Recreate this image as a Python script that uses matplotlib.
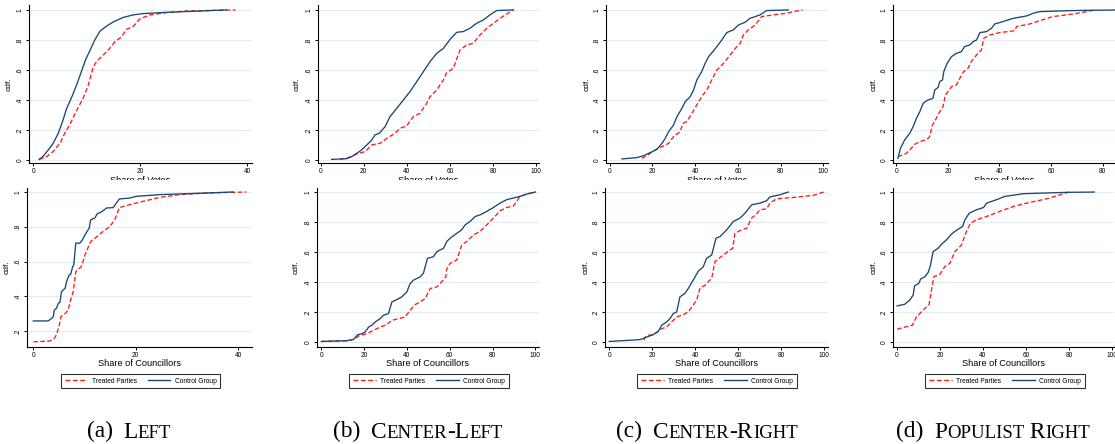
import matplotlib
matplotlib.use("Agg")
import matplotlib.pyplot as plt
from matplotlib.transforms import Bbox, TransformedBbox

W, H = 1115, 444

# ---------------- data ----------------
# (a) Left
left_votes_ctrl_x = [1.1, 1.9, 2.8, 3.7, 4.7, 5.6, 6.2, 7.2, 8.1, 9.0, 9.8, 10.6, 11.5, 12.5, 13.6, 14.95, 16.8, 18.7, 20.6, 24.9, 31.2, 36.1]
left_votes_ctrl_y = [0.004, 0.027, 0.067, 0.11, 0.18, 0.27, 0.34, 0.42, 0.5, 0.59, 0.67, 0.73, 0.8, 0.86, 0.89, 0.92, 0.95, 0.967, 0.976, 0.984, 0.993, 1.0]
left_votes_treat_x = [1.1, 2.5, 3.7, 5.0, 5.9, 6.9, 8.1, 9.3, 10.3, 11.2, 11.8, 13.1, 14.3, 15.3, 16.5, 17.4, 18.7, 19.9, 21.8, 24.9, 28.7, 34.3, 37.8]
left_votes_treat_y = [0.004, 0.022, 0.056, 0.11, 0.18, 0.24, 0.33, 0.41, 0.5, 0.62, 0.655, 0.7, 0.744, 0.79, 0.82, 0.87, 0.89, 0.94, 0.967, 0.982, 0.993, 0.998, 1.0]
left_coun_ctrl_x = [0, 2.9, 3.6, 3.9, 4.1, 4.5, 4.9, 5.2, 5.5, 6.2, 6.5, 7.0, 7.3, 7.7, 7.9, 8.3, 9.1, 9.6, 10.1, 10.5, 10.9, 11.2, 12.0, 12.5, 13.3, 14.3, 15.6, 15.9, 16.8, 18.8, 20.1, 24.7, 29.9, 39.0]
left_coun_ctrl_y = [0.258, 0.258, 0.273, 0.283, 0.32, 0.33, 0.36, 0.365, 0.427, 0.446, 0.485, 0.523, 0.527, 0.571, 0.58, 0.706, 0.706, 0.725, 0.754, 0.773, 0.79, 0.84, 0.85, 0.875, 0.885, 0.908, 0.91, 0.923, 0.96, 0.965, 0.975, 0.985, 0.99, 1.0]
left_coun_treat_x = [0, 3.2, 4.0, 4.5, 5.1, 5.4, 6.2, 6.8, 7.3, 7.8, 8.3, 9.4, 10.1, 10.5, 11.2, 12.3, 13.6, 14.9, 15.9, 16.8, 18.8, 21.4, 24.7, 28.6, 33.8, 41.6]
left_coun_treat_y = [0.138, 0.142, 0.154, 0.177, 0.235, 0.283, 0.30, 0.32, 0.38, 0.427, 0.542, 0.571, 0.638, 0.667, 0.715, 0.74, 0.773, 0.80, 0.84, 0.91, 0.927, 0.946, 0.969, 0.985, 0.994, 1.0]

# (b) Center-Left
cl_votes_ctrl_x = [5.1, 12.1, 14.4, 16.7, 19.0, 21.4, 23.7, 25.2, 27.2, 29.9, 32.2, 35.3, 38.4, 41.5, 44.6, 47.7, 50.8, 53.9, 57.0, 60.1, 63.2, 66.2, 69.4, 72.4, 75.5, 78.6, 81.7, 89.5]
cl_votes_ctrl_y = [0.004, 0.009, 0.022, 0.044, 0.067, 0.1, 0.133, 0.167, 0.178, 0.222, 0.289, 0.344, 0.4, 0.456, 0.522, 0.589, 0.656, 0.711, 0.744, 0.804, 0.851, 0.856, 0.878, 0.911, 0.933, 0.967, 0.996, 1.0]
cl_votes_treat_x = [9.0, 12.8, 16.7, 20.6, 23.7, 27.6, 30.7, 34.5, 36.8, 39.9, 43.0, 46.1, 49.2, 50.8, 53.9, 57.0, 58.5, 61.6, 64.7, 67.8, 70.9, 74.0, 77.1, 80.2, 83.3, 86.4, 89.5]
cl_votes_treat_y = [0.004, 0.016, 0.04, 0.056, 0.1, 0.111, 0.144, 0.178, 0.211, 0.227, 0.289, 0.311, 0.378, 0.422, 0.467, 0.533, 0.582, 0.611, 0.733, 0.767, 0.778, 0.833, 0.878, 0.911, 0.944, 0.973, 1.0]
cl_coun_ctrl_x = [0, 12, 15.1, 17, 19, 20.5, 22.1, 23.6, 25.2, 27.5, 29.1, 31.4, 33, 35.3, 37.6, 40, 41.5, 43.1, 46.2, 47.7, 49.6, 52.4, 54, 57.1, 58.6, 60.2, 63.3, 65.6, 67.2, 69.5, 71.9, 74.2, 77.3, 80.4, 83.5, 86.6, 92.8, 96, 100]
cl_coun_ctrl_y = [0.004, 0.009, 0.018, 0.049, 0.056, 0.067, 0.1, 0.112, 0.134, 0.156, 0.179, 0.19, 0.268, 0.283, 0.301, 0.335, 0.39, 0.413, 0.435, 0.458, 0.558, 0.569, 0.603, 0.625, 0.67, 0.692, 0.725, 0.748, 0.781, 0.804, 0.837, 0.848, 0.871, 0.897, 0.926, 0.949, 0.971, 0.987, 1.0]
cl_coun_treat_x = [0, 12, 15.4, 17.4, 21.3, 24.4, 27.5, 30.6, 33, 36.1, 39.2, 41.5, 43.9, 46.2, 48.5, 50.9, 54, 56.3, 58.2, 58.6, 60.2, 63.3, 65.6, 67.9, 71.1, 74.2, 77.3, 80.4, 83.5, 86.6, 89.7, 92.8, 96, 100]
cl_coun_treat_y = [0.004, 0.009, 0.018, 0.04, 0.056, 0.078, 0.1, 0.116, 0.145, 0.156, 0.167, 0.212, 0.25, 0.268, 0.29, 0.357, 0.368, 0.402, 0.435, 0.487, 0.525, 0.547, 0.647, 0.67, 0.714, 0.737, 0.781, 0.826, 0.875, 0.897, 0.906, 0.971, 0.987, 1.0]

# (c) Center-Right
cr_votes_ctrl_x = [5.8, 12.8, 15.9, 19, 22.1, 24.5, 26, 27.6, 29.9, 31.5, 33.8, 35.4, 37.7, 39.3, 40.8, 43.1, 44.7, 46.3, 48.3, 50.2, 52.5, 54.8, 57.9, 60.3, 63.4, 65.7, 70.4, 73.5, 83.6]
cr_votes_ctrl_y = [0.007, 0.016, 0.029, 0.049, 0.071, 0.111, 0.144, 0.189, 0.233, 0.289, 0.344, 0.389, 0.422, 0.467, 0.533, 0.589, 0.644, 0.689, 0.722, 0.756, 0.8, 0.849, 0.867, 0.9, 0.918, 0.944, 0.967, 0.996, 1.0]
cr_votes_treat_x = [15.1, 17.8, 21.3, 24.5, 27.6, 29.9, 33, 34.3, 36.1, 38.5, 40.8, 43.1, 45.5, 47.8, 50.2, 53.3, 56.4, 59.5, 61.1, 62.6, 64.9, 68.1, 71.2, 76.6, 82.9, 86, 90.3]
cr_votes_treat_y = [0.011, 0.033, 0.067, 0.089, 0.111, 0.156, 0.189, 0.244, 0.256, 0.311, 0.367, 0.422, 0.467, 0.533, 0.6, 0.644, 0.7, 0.756, 0.778, 0.833, 0.867, 0.9, 0.956, 0.967, 0.978, 0.989, 1.0]
cr_coun_ctrl_x = [0, 14.3, 17.4, 20.5, 22.8, 24.4, 26.7, 28.3, 29.8, 31.4, 32.9, 35.2, 36.8, 39.1, 41.5, 43.8, 45.3, 47.7, 49.7, 51.6, 54.7, 57.8, 60.9, 63.2, 66.3, 70.2, 73.3, 74.8, 79.5, 83.4]
cr_coun_ctrl_y = [0.004, 0.016, 0.033, 0.049, 0.071, 0.112, 0.134, 0.156, 0.19, 0.201, 0.301, 0.324, 0.357, 0.413, 0.473, 0.502, 0.558, 0.58, 0.692, 0.703, 0.748, 0.804, 0.826, 0.859, 0.915, 0.926, 0.942, 0.967, 0.982, 1.0]
cr_coun_treat_x = [16.1, 17, 19.7, 22.4, 24.4, 26.7, 29, 31.4, 34.5, 36.8, 39.1, 40.7, 42.2, 44.6, 46.1, 47.7, 49.2, 53.1, 56.2, 57.5, 58.5, 61.6, 64, 66.3, 68.6, 70.2, 73.3, 74.8, 77.9, 85.7, 95, 100]
cr_coun_treat_y = [0.011, 0.04, 0.049, 0.067, 0.089, 0.1, 0.134, 0.167, 0.183, 0.201, 0.246, 0.279, 0.357, 0.379, 0.402, 0.424, 0.536, 0.58, 0.614, 0.625, 0.725, 0.748, 0.759, 0.826, 0.853, 0.882, 0.888, 0.926, 0.955, 0.964, 0.978, 1.0]

# (d) Populist Right
pr_votes_ctrl_x = [0.6, 1.6, 3.2, 5.2, 6.5, 7.8, 9.1, 10.4, 12.3, 14.2, 14.9, 16.2, 16.8, 17.9, 18.4, 19.7, 21.4, 23.3, 25.2, 26.5, 28.5, 29.8, 31.1, 32.4, 35, 36.9, 38.2, 40.1, 45.3, 50.5, 53.1, 55.7, 68.6, 85.4]
pr_votes_ctrl_y = [0.011, 0.078, 0.133, 0.178, 0.222, 0.278, 0.322, 0.378, 0.4, 0.411, 0.467, 0.484, 0.522, 0.533, 0.589, 0.644, 0.689, 0.711, 0.722, 0.756, 0.767, 0.789, 0.8, 0.849, 0.856, 0.878, 0.907, 0.916, 0.944, 0.96, 0.978, 0.989, 0.996, 1.0]
pr_votes_treat_x = [0.6, 3.9, 5.8, 7.1, 9.1, 11.9, 12.9, 14, 15.5, 16.8, 18.1, 19, 20.1, 21.4, 23.3, 24.6, 26.1, 27.8, 29.1, 31.1, 33, 33.9, 36.2, 40.1, 46, 46.6, 51.8, 55.7, 60.8, 68.6, 73.8, 77]
pr_votes_treat_y = [0.022, 0.044, 0.078, 0.104, 0.122, 0.138, 0.156, 0.233, 0.278, 0.322, 0.356, 0.433, 0.456, 0.489, 0.5, 0.544, 0.589, 0.611, 0.656, 0.7, 0.733, 0.811, 0.833, 0.849, 0.862, 0.889, 0.907, 0.929, 0.956, 0.973, 0.989, 1.0]
pr_coun_ctrl_x = [0, 3.6, 5.9, 7.5, 8.2, 10.1, 11, 12.9, 14.5, 15.6, 16.8, 19.1, 20.7, 23, 25.3, 26.9, 29.2, 30.5, 31.6, 33.6, 37, 40.3, 41.7, 46.3, 50.2, 58.8, 79, 91.8]
pr_coun_ctrl_y = [0.241, 0.252, 0.279, 0.313, 0.375, 0.391, 0.42, 0.435, 0.464, 0.513, 0.603, 0.625, 0.652, 0.681, 0.719, 0.737, 0.759, 0.77, 0.815, 0.859, 0.882, 0.897, 0.926, 0.949, 0.971, 0.989, 0.998, 1.0]
pr_coun_treat_x = [0, 3.6, 7.2, 9, 12.1, 14.9, 17.1, 19.9, 22.2, 24.6, 26.9, 30, 32.3, 34.2, 37, 41.7, 47.9, 54.1, 60.3, 69.7, 75.9, 80]
pr_coun_treat_y = [0.085, 0.1, 0.112, 0.167, 0.212, 0.25, 0.435, 0.451, 0.502, 0.525, 0.603, 0.647, 0.737, 0.792, 0.815, 0.837, 0.871, 0.904, 0.926, 0.955, 0.982, 1.0]

series_labels = ["Treated Parties", "Control Group"]
ylabel_text = "cdf."
xlabel_votes = "Share of Votes"
xlabel_coun = "Share of Councillors"
captions = [[("(a)", "big"), ("L", "big"), ("EFT", "small")],
            [("(b)", "big"), ("C", "big"), ("ENTER", "small"), ("-L", "big"), ("EFT", "small")],
            [("(c)", "big"), ("C", "big"), ("ENTER", "small"), ("-R", "big"), ("IGHT", "small")],
            [("(d)", "big"), ("P", "big"), ("OPULIST", "small"), (" R", "big"), ("IGHT", "small")]]
xticks_top = [[0, 20, 40], [0, 20, 40, 60, 80, 100], [0, 20, 40, 60, 80, 100], [0, 20, 40, 60, 80]]
xticks_bot = [[0, 20, 40], [0, 20, 40, 60, 80, 100], [0, 20, 40, 60, 80, 100], [0, 20, 40, 60, 80, 100]]
yticks_all = [0, 0.2, 0.4, 0.6, 0.8, 1.0]
ytick_labels = {0: "0", 0.2: ".2", 0.4: ".4", 0.6: ".6", 0.8: ".8", 1.0: "1"}

top_data = [(left_votes_treat_x, left_votes_treat_y, left_votes_ctrl_x, left_votes_ctrl_y),
            (cl_votes_treat_x, cl_votes_treat_y, cl_votes_ctrl_x, cl_votes_ctrl_y),
            (cr_votes_treat_x, cr_votes_treat_y, cr_votes_ctrl_x, cr_votes_ctrl_y),
            (pr_votes_treat_x, pr_votes_treat_y, pr_votes_ctrl_x, pr_votes_ctrl_y)]
bot_data = [(left_coun_treat_x, left_coun_treat_y, left_coun_ctrl_x, left_coun_ctrl_y),
            (cl_coun_treat_x, cl_coun_treat_y, cl_coun_ctrl_x, cl_coun_ctrl_y),
            (cr_coun_treat_x, cr_coun_treat_y, cr_coun_ctrl_x, cr_coun_ctrl_y),
            (pr_coun_treat_x, pr_coun_treat_y, pr_coun_ctrl_x, pr_coun_ctrl_y)]

# ---------------- layout / style ----------------
SANS = "Liberation Sans"
SERIF = "Liberation Serif"
BLUE = "#1a476f"
RED = "#ff1a1a"
GRID = "#e4eced"

top_boxes = [(29, 252), (318, 539), (606, 828), (893, 1115)]
bot_boxes = [(27, 252), (317, 539), (605, 828), (893, 1114)]
top_y = (5, 163)
bot_y = (188, 347)
top_xlims = [(-0.8, 40.9), (-1.25, 101.4), (-1.7, 102.2), (-1.3, 84.8)]
bot_xlims = [(-1.23, 42.7), (-2.0, 101.7), (-2.0, 101.9), (-1.87, 101.0)]
top_ylim = (-0.02, 1.033)
bot_ylims = [(0.108, 1.023), (-0.033, 1.027), (-0.033, 1.027), (-0.033, 1.027)]
ylabel_dx = [16.5, 17, 15, 15]
legend_cx = [140.7, 429, 717, 1005]
caption_cx = [129, 418, 707, 993]

fig = plt.figure(figsize=(W / 100, H / 100), dpi=100)
fig.patch.set_facecolor("white")


def add_ax(xr, yr):
    l, r = xr
    t, b = yr
    return fig.add_axes([l / W, 1 - b / H, (r - l) / W, (b - t) / H])


def style_ax(ax, xlim, ylim, xticks, dx):
    ax.set_xlim(*xlim)
    ax.set_ylim(*ylim)
    for s in ["top", "right"]:
        ax.spines[s].set_visible(False)
    for s in ["left", "bottom"]:
        ax.spines[s].set_linewidth(0.8)
        ax.spines[s].set_color("black")
    ax.set_xticks(xticks)
    ax.set_xticklabels([str(v) for v in xticks])
    yt = [v for v in yticks_all if ylim[0] <= v <= ylim[1]]
    ax.set_yticks(yt)
    ax.set_yticklabels([ytick_labels[v] for v in yt])
    ax.tick_params(axis="both", direction="out", length=2.3, width=0.7,
                   labelsize=4.7, pad=1.6, colors="black")
    ax.tick_params(axis="y", labelrotation=90)
    for lab in ax.get_xticklabels() + ax.get_yticklabels():
        lab.set_family(SANS)
    for lab in ax.get_yticklabels():
        lab.set_va("center")
    ax.grid(axis="y", color=GRID, linewidth=0.8)
    ax.set_axisbelow(True)
    ax.set_ylabel(ylabel_text, family=SANS, fontsize=6)
    w = ax.get_position().width * W
    ax.yaxis.set_label_coords(-dx / w, 0.5)


def draw_curves(ax, d):
    tx, ty, cx, cy = d
    ax.plot(tx, ty, color=RED, lw=0.95, dashes=(3.5, 1.8), label=series_labels[0])
    ax.plot(cx, cy, color=BLUE, lw=0.95, label=series_labels[1])


for i in range(4):
    ax = add_ax(top_boxes[i], top_y)
    draw_curves(ax, top_data[i])
    style_ax(ax, top_xlims[i], top_ylim, xticks_top[i], ylabel_dx[i])
    # x label (cropped in the reference)
    cx = (top_boxes[i][0] + top_boxes[i][1]) / 2
    t = fig.text(cx / W, 1 - 180 / H, xlabel_votes, family=SANS, fontsize=6.6,
                 ha="center", va="center")
    t.set_clip_on(True)
    t.set_clip_box(TransformedBbox(Bbox.from_extents(0, 1 - 180 / H, 1, 1), fig.transFigure))

    ax = add_ax(bot_boxes[i], bot_y)
    draw_curves(ax, bot_data[i])
    style_ax(ax, bot_xlims[i], bot_ylims[i], xticks_bot[i], ylabel_dx[i])
    cx = (bot_boxes[i][0] + bot_boxes[i][1]) / 2
    fig.text(cx / W, 1 - 364 / H, xlabel_coun, family=SANS, fontsize=6.6,
             ha="center", va="center")
    leg = ax.legend(loc="center", bbox_to_anchor=(legend_cx[i] / W, 1 - 381.3 / H),
                    bbox_transform=fig.transFigure, ncol=2, frameon=True,
                    fancybox=False, prop={"family": SANS, "size": 4.8},
                    handlelength=3.4, handletextpad=0.7, columnspacing=1.6,
                    borderpad=0.55, borderaxespad=0)
    leg.get_frame().set_edgecolor("black")
    leg.get_frame().set_linewidth(0.8)
    for h in leg.get_lines():
        h.set_linewidth(1.0)

# ---------------- captions with emulated small caps ----------------
renderer = fig.canvas.get_renderer()
sizes = {"big": 16.8, "small": 13.5}
base_y = 1 - 437.5 / H
for i, pieces in enumerate(captions):
    texts = []
    widths = []
    for j, (s, kind) in enumerate(pieces):
        t = fig.text(0, base_y, s, family=SERIF, fontsize=sizes[kind],
                     ha="left", va="baseline")
        widths.append(t.get_window_extent(renderer).width)
        texts.append(t)
    gap = 11.0
    total = sum(widths) + gap
    x = caption_cx[i] - total / 2
    for j, t in enumerate(texts):
        t.set_x(x / W)
        x += widths[j]
        if j == 0:
            x += gap

fig.savefig("out.png", dpi=100, facecolor="white")
